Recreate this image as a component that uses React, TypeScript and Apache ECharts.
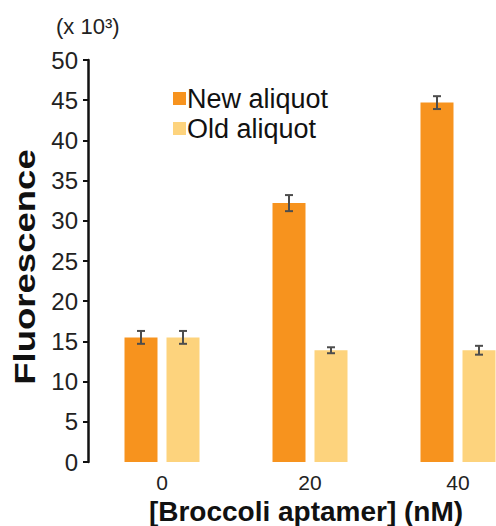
import React, { useEffect, useRef } from "react";
import * as echarts from "echarts";

const categories = ["0", "20", "40"];
const newAliquot = [15.5, 32.2, 44.7];
const newErr = [0.8, 1.0, 0.8];
const oldAliquot = [15.5, 13.9, 13.9];
const oldErr = [0.8, 0.37, 0.55];
const yMin = 0;
const yMax = 50;
const yInterval = 5;

const BAR_W = 33;
const GAP = 9;
const ORANGE = "#F7931E";
const LIGHT = "#FDD37D";
const FONT = "'Liberation Sans', Arial, sans-serif";

function errSeries(name: string, vals: number[], errs: number[], sign: number) {
  return {
    type: "custom",
    name: name + " err",
    z: 5,
    silent: true,
    data: vals.map((v, i) => [i, v, errs[i]]),
    renderItem: (params: any, api: any) => {
      const i = api.value(0);
      const v = api.value(1);
      const e = api.value(2);
      const top = api.coord([i, v + e]);
      const bot = api.coord([i, v - e]);
      const x = top[0] + sign * (BAR_W + GAP) / 2;
      const cap = 4;
      const style = { stroke: "#4d4d4d", lineWidth: 2 };
      return {
        type: "group",
        children: [
          { type: "line", shape: { x1: x, y1: top[1], x2: x, y2: bot[1] }, style },
          { type: "line", shape: { x1: x - cap, y1: top[1], x2: x + cap, y2: top[1] }, style },
          { type: "line", shape: { x1: x - cap, y1: bot[1], x2: x + cap, y2: bot[1] }, style },
        ],
      };
    },
  };
}

export default function App() {
  const ref = useRef<HTMLDivElement>(null);
  useEffect(() => {
    if (!ref.current) return;
    const chart = echarts.init(ref.current, undefined, { renderer: "svg" });
    chart.setOption({
      animation: false,
      backgroundColor: "#ffffff",
      textStyle: { fontFamily: FONT },
      grid: { left: 88, top: 60, height: 402, width: 444, outerBoundsMode: "none", containLabel: false },
      legend: {
        left: 168,
        top: 80,
        orient: "vertical",
        itemWidth: 13,
        itemHeight: 13,
        itemGap: 3,
        icon: "rect",
        data: ["New aliquot", "Old aliquot"],
        textStyle: { fontSize: 27, color: "#111111", fontFamily: FONT, padding: [0, 0, 0, -4] },
      },
      xAxis: {
        type: "category",
        data: categories,
        axisLine: { show: false },
        axisTick: { show: false },
        axisLabel: { fontSize: 21, color: "#222222", margin: 10, fontFamily: FONT },
        name: "[Broccoli aptamer] (nM)",
        nameLocation: "middle",
        nameGap: 33,
        nameTextStyle: { fontSize: 28, fontWeight: "bold", color: "#111111", fontFamily: FONT, padding: [0, 8, 0, 0] },
      },
      yAxis: {
        type: "value",
        min: yMin,
        max: yMax,
        interval: yInterval,
        splitLine: { show: false },
        axisLine: { show: true, lineStyle: { color: "#111111", width: 2.5 } },
        axisTick: { show: true, inside: false, length: 5, lineStyle: { color: "#111111", width: 2 } },
        axisLabel: { fontSize: 24, color: "#222222", margin: 10, fontFamily: FONT },
      },
      graphic: [
        {
          type: "text",
          left: 56,
          top: 15,
          style: { text: "(x 10³)", fontSize: 22, fill: "#222222", fontFamily: FONT },
        },
        {
          type: "text",
          x: 25,
          y: 267,
          rotation: Math.PI / 2,
          scaleX: 1.26,
          style: {
            text: "Fluorescence",
            fontSize: 29,
            fontWeight: "bold",
            fill: "#111111",
            fontFamily: FONT,
            align: "center",
            verticalAlign: "middle",
          },
        },
      ],
      series: [
        {
          type: "bar",
          name: "New aliquot",
          data: newAliquot,
          barWidth: BAR_W,
          barGap: (GAP / BAR_W) * 100 + "%",
          itemStyle: { color: ORANGE },
        },
        {
          type: "bar",
          name: "Old aliquot",
          data: oldAliquot,
          barWidth: BAR_W,
          itemStyle: { color: LIGHT },
        },
        errSeries("New aliquot", newAliquot, newErr, -1),
        errSeries("Old aliquot", oldAliquot, oldErr, 1),
      ],
    });
    return () => chart.dispose();
  }, []);
  return (
    <div
      ref={ref}
      style={{ position: "absolute", left: 0, top: 0, width: 496, height: 526 }}
    />
  );
}
